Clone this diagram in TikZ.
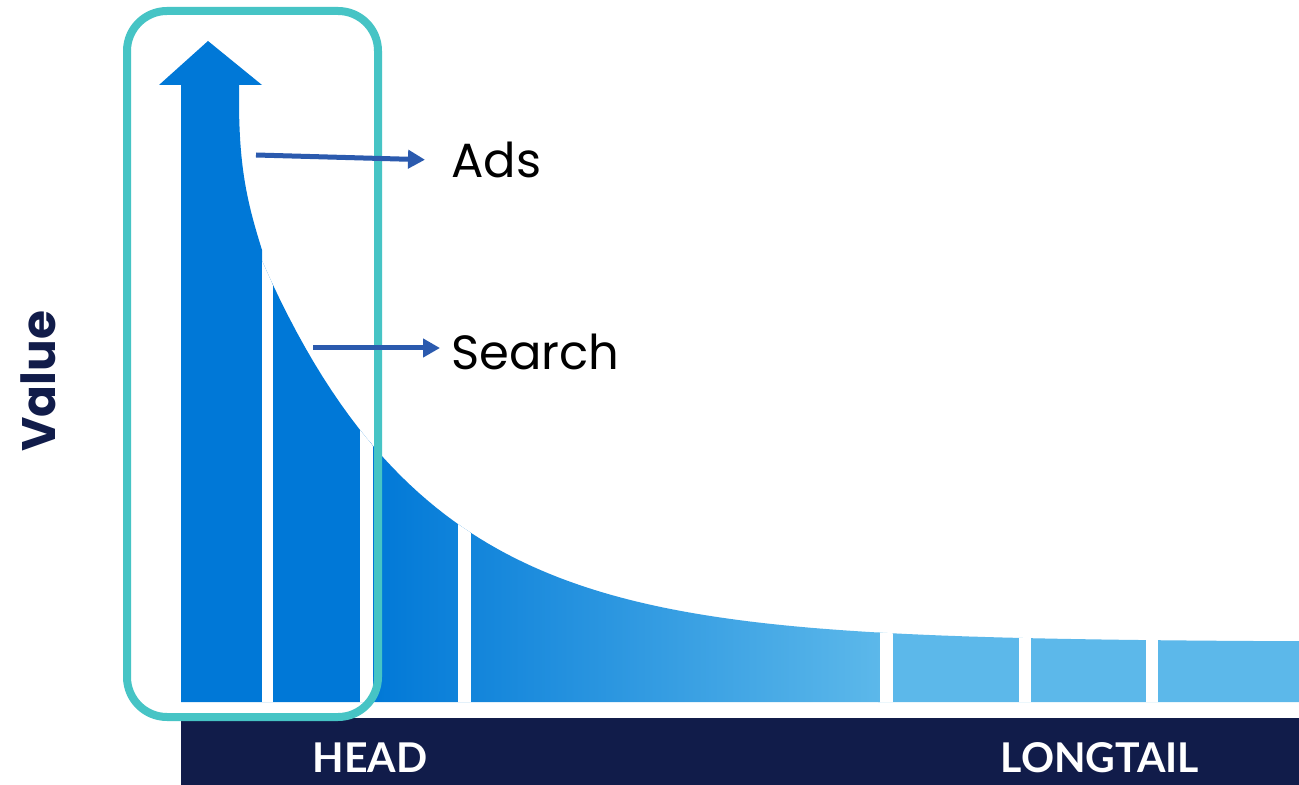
\documentclass[tikz,border=0pt]{standalone}
\usepackage{fontspec}
\setmainfont{Poppins}
\newfontfamily\labfont{Lato}
\usetikzlibrary{arrows.meta}
\definecolor{barblue}{HTML}{0078D7}
\definecolor{lightblue}{HTML}{5CB8EA}
\definecolor{navyband}{HTML}{111C4A}
\definecolor{frameteal}{HTML}{46C4C5}
\definecolor{arrowblue}{HTML}{2B5AAE}
\tikzset{
  pointer/.style={draw=arrowblue, line width=2.5pt, -{Triangle[length=8.5pt,width=9pt]}},
  lbl/.style={inner sep=0pt, font=\fontsize{24}{28}\selectfont, text=black},
  bandlbl/.style={inner sep=0pt, font=\labfont\bfseries\fontsize{20.5}{24}\selectfont, text=white},
  gap/.style={fill=white, draw=none}
}
\begin{document}
\begin{tikzpicture}[x=0.5pt,y=-0.5pt]
\useasboundingbox (0,0) rectangle (1299,785);
\fill[white] (0,0) rectangle (1299,785);
% distribution shape
\begin{scope}
\clip (181,702) -- (181,85) -- (159,85) -- (208,41) -- (262,85) -- (239,85) -- (239,100)
  .. controls (239,170) and (248,205) .. (262,250)
  -- plot[domain=262:1299, samples=120] (\x, {642-357*exp(-(\x-273)/167)})
  -- (1299,702) -- cycle;
\fill[barblue] (150,30) rectangle (372,710);
\shade[left color=barblue, right color=lightblue] (370,30) rectangle (880,710);
\fill[lightblue] (878,30) rectangle (1305,710);
\fill[gap] (262,240) rectangle (273,705);
\fill[gap] (360,240) rectangle (373,705);
\fill[gap] (458,240) rectangle (471,705);
\fill[gap] (880,240) rectangle (893,705);
\fill[gap] (1019,240) rectangle (1031,705);
\fill[gap] (1146,240) rectangle (1158,705);
\end{scope}
% band
\fill[navyband] (181,718) rectangle (1299,785);
\node[bandlbl, anchor=base] (head) at (370,772) {HEAD};
\node[bandlbl, anchor=base] (longtail) at (1100,772) {LONGTAIL};
% head frame
\draw[frameteal, line width=4pt, rounded corners=20pt] (127,11) rectangle (378,717);
% labels
\node[lbl, anchor=base west] (ads) at (451,178) {Ads};
\node[lbl, anchor=base west] (search) at (451,370) {Search};
\node[inner sep=0pt, rotate=90, anchor=base, text=navyband, font=\bfseries\fontsize{23.5}{28}\selectfont] (value) at (55,381) {Value};
% pointers
\coordinate (adsfrom) at (256,155);
\coordinate (searchfrom) at (313,348);
\draw[pointer, shorten >=13pt] (adsfrom) -- (ads.west);
\draw[pointer, shorten >=5.5pt] (searchfrom) -- (searchfrom -| search.west);
\end{tikzpicture}
\end{document}
